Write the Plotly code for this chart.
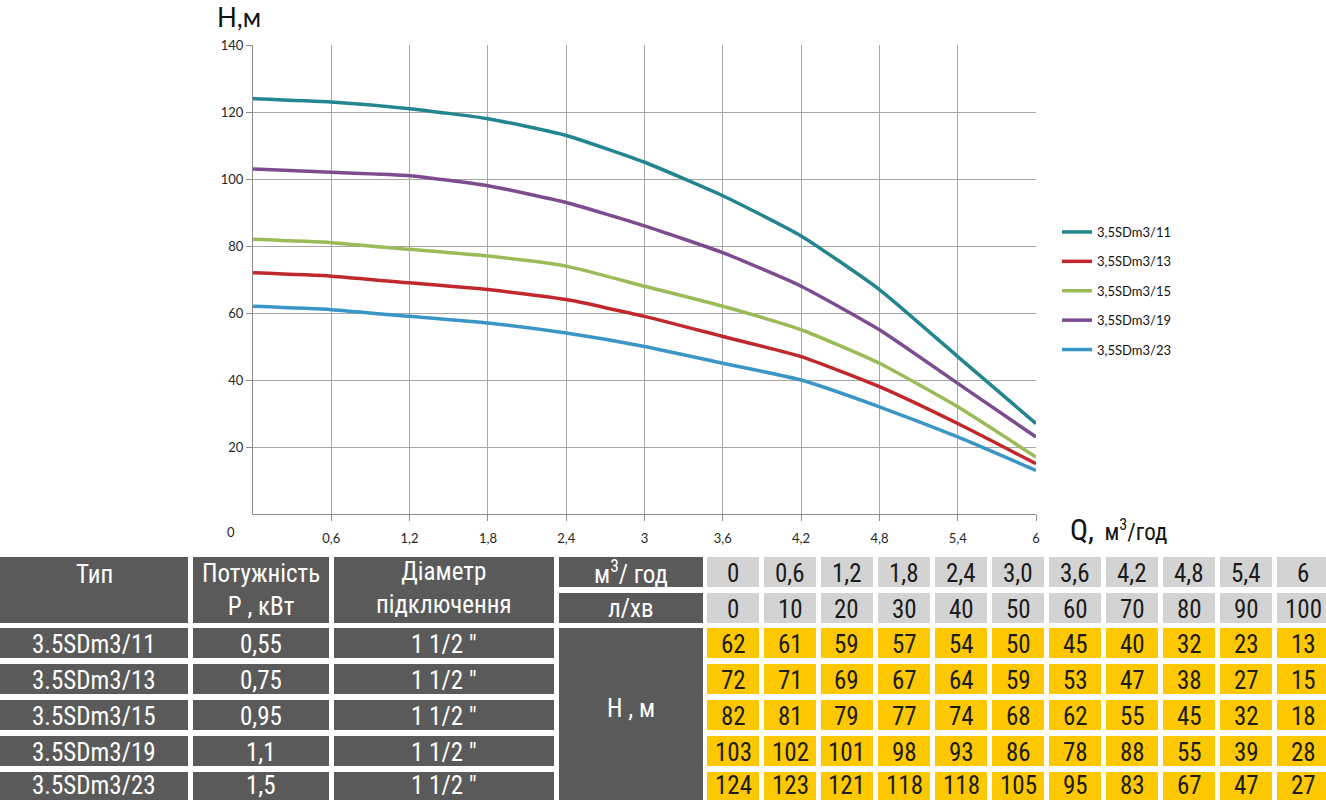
import plotly.graph_objects as go

W, H = 1326, 800

# ---------------- chart data ----------------
flow_q = [0, 0.6, 1.2, 1.8, 2.4, 3.0, 3.6, 4.2, 4.8, 5.4, 6.0]
series_names = ["3,5SDm3/11", "3,5SDm3/13", "3,5SDm3/15", "3,5SDm3/19", "3,5SDm3/23"]
head_11 = [124, 123, 121, 118, 113, 105, 95, 83, 67, 47, 27]
head_13 = [72, 71, 69, 67, 64, 59, 53, 47, 38, 27, 15]
head_15 = [82, 81, 79, 77, 74, 68, 62, 55, 45, 32, 17]
head_19 = [103, 102, 101, 98, 93, 86, 78, 68, 55, 39, 23]
head_23 = [62, 61, 59, 57, 54, 50, 45, 40, 32, 23, 13]
series_values = [head_11, head_13, head_15, head_19, head_23]
series_colors = ["#23858f", "#c0282d", "#9bbb59", "#7d4c8e", "#3a96c6"]

x_tick_vals = [0.6, 1.2, 1.8, 2.4, 3.0, 3.6, 4.2, 4.8, 5.4, 6.0]
x_tick_text = ["0,6", "1,2", "1,8", "2,4", "3", "3,6", "4,2", "4,8", "5,4", "6"]
y_tick_vals = [20, 40, 60, 80, 100, 120, 140]

# ---------------- table data ----------------
tbl_types = ["3.5SDm3/11", "3.5SDm3/13", "3.5SDm3/15", "3.5SDm3/19", "3.5SDm3/23"]
tbl_power = ["0,55", "0,75", "0,95", "1,1", "1,5"]
tbl_diam = ['1 1/2 "', '1 1/2 "', '1 1/2 "', '1 1/2 "', '1 1/2 "']
tbl_q_m3 = ["0", "0,6", "1,2", "1,8", "2,4", "3,0", "3,6", "4,2", "4,8", "5,4", "6"]
tbl_q_lmin = ["0", "10", "20", "30", "40", "50", "60", "70", "80", "90", "100"]
tbl_head = [
    [62, 61, 59, 57, 54, 50, 45, 40, 32, 23, 13],
    [72, 71, 69, 67, 64, 59, 53, 47, 38, 27, 15],
    [82, 81, 79, 77, 74, 68, 62, 55, 45, 32, 18],
    [103, 102, 101, 98, 93, 86, 78, 88, 55, 39, 28],
    [124, 123, 121, 118, 118, 105, 95, 83, 67, 47, 27],
]

# ---------------- layout constants ----------------
PLOT_L, PLOT_R, PLOT_T, PLOT_B = 253, 1036, 45, 514
DARK, LIGHT, YELLOW = "#5a5a5a", "#d3d3d3", "#fdc800"
TXT_DARK = "#1c1c1c"
TFONT = "Liberation Sans Narrow, Roboto Condensed, Arial Narrow, sans-serif"
CFONT = "Lato, Carlito, Calibri, sans-serif"
TSIZE = 25

COLS = [(0, 188), (193, 329), (334, 554), (559, 703)]
NUM_X0, NUM_PITCH, NUM_W = 707, 57, 52
HDR_ROWS = [(557, 587), (593, 623)]
DATA_Y0, ROW_PITCH, ROW_H = 628, 36, 30


def px(x):
    return x / W


def py(y):
    return 1 - y / H


fig = go.Figure()
for name, vals, col in zip(series_names, series_values, series_colors):
    fig.add_trace(go.Scatter(
        x=flow_q, y=vals, name=name, mode="lines",
        line=dict(color=col, width=3.5, shape="spline", smoothing=0.5),
        legendgroup=name,
    ))

shapes = []
annots = []


def rect(x0, y0, x1, y1, color):
    shapes.append(dict(type="rect", xref="paper", yref="paper",
                       x0=px(x0), x1=px(x1), y0=py(y1), y1=py(y0),
                       fillcolor=color, line=dict(width=0), layer="above"))


def text(x, y, s, color, size=TSIZE, family=TFONT, xanchor="center"):
    annots.append(dict(xref="paper", yref="paper", x=px(x), y=py(y), text=s,
                       showarrow=False, xanchor=xanchor, yanchor="middle",
                       font=dict(family=family, size=size, color=color)))


# header cells (merged over two header rows) for first three columns
hdr_top, hdr_bot = HDR_ROWS[0][0], HDR_ROWS[1][1]
for (x0, x1) in COLS[:3]:
    rect(x0, hdr_top, x1, hdr_bot, DARK)
text((COLS[0][0] + COLS[0][1]) / 2, 574, "Тип", "white")
text((COLS[1][0] + COLS[1][1]) / 2, 590, "Потужність<br>P , кВт", "white")
text((COLS[2][0] + COLS[2][1]) / 2, 588, "Діаметр<br>підключення", "white")

# unit label cells
unit_labels = ["м<sup>3</sup>/ год", "л/хв"]
for (y0, y1), lab in zip(HDR_ROWS, unit_labels):
    rect(COLS[3][0], y0, COLS[3][1], y1, DARK)
    text((COLS[3][0] + COLS[3][1]) / 2, (y0 + y1) / 2, lab, "white")

# flow header values
for row_vals, (y0, y1) in zip([tbl_q_m3, tbl_q_lmin], HDR_ROWS):
    for i, v in enumerate(row_vals):
        x0 = NUM_X0 + i * NUM_PITCH
        rect(x0, y0, x0 + NUM_W, y1, LIGHT)
        text(x0 + NUM_W / 2, (y0 + y1) / 2 + 1, v, TXT_DARK)

# data rows
n_rows = len(tbl_types)
for r in range(n_rows):
    y0 = DATA_Y0 + r * ROW_PITCH
    y1 = y0 + ROW_H
    ty = min((y0 + y1) / 2 + 1, 785)
    for (x0, x1), v in zip(COLS[:3], [tbl_types[r], tbl_power[r], tbl_diam[r]]):
        rect(x0, y0, x1, y1, DARK)
        text((x0 + x1) / 2, ty, v, "white")
    for i, v in enumerate(tbl_head[r]):
        x0 = NUM_X0 + i * NUM_PITCH
        rect(x0, y0, x0 + NUM_W, y1, YELLOW)
        text(x0 + NUM_W / 2, ty, str(v), TXT_DARK)

# merged "H, m" cell
hm_bot = DATA_Y0 + (n_rows - 1) * ROW_PITCH + ROW_H
rect(COLS[3][0], DATA_Y0, COLS[3][1], hm_bot, DARK)
text((COLS[3][0] + COLS[3][1]) / 2, 708, "Н , м", "white")

# chart titles
text(239, 17, "Н,м", "#111111", size=26, family=CFONT)
text(1068, 529, "<span style='font-size:30px'>Q,</span>  м<sup>3</sup>/год", "#111111",
     size=23, family=TFONT, xanchor="left")
text(231, 532, "0", "#262626", size=13, family=CFONT)

fig.update_layout(
    width=W, height=H,
    margin=dict(l=0, r=0, t=0, b=0, pad=0, autoexpand=False),
    paper_bgcolor="white", plot_bgcolor="white",
    shapes=shapes, annotations=annots,
    showlegend=True,
    legend=dict(x=px(1057), y=py(217), xanchor="left", yanchor="top",
                font=dict(family=CFONT, size=13, color="#111111"),
                traceorder="grouped", tracegroupgap=9.5, itemwidth=30,
                bgcolor="rgba(0,0,0,0)"),
    xaxis=dict(domain=[px(PLOT_L), px(PLOT_R)], range=[0, 6],
               tickvals=x_tick_vals, ticktext=x_tick_text,
               showgrid=True, gridcolor="#a6a6a6", gridwidth=1,
               showline=True, linecolor="#8c8c8c", linewidth=1,
               ticks="outside", ticklen=6, tickcolor="#8c8c8c",
               ticklabelstandoff=6,
               tickfont=dict(family=CFONT, size=13, color="#262626"),
               zeroline=False, fixedrange=True, automargin=False),
    yaxis=dict(domain=[py(PLOT_B), py(PLOT_T)], range=[0, 140],
               tickvals=y_tick_vals,
               showgrid=True, gridcolor="#a6a6a6", gridwidth=1,
               showline=True, linecolor="#8c8c8c", linewidth=1,
               ticks="outside", ticklen=6, tickcolor="#8c8c8c",
               tickfont=dict(family=CFONT, size=13, color="#262626"),
               zeroline=False, fixedrange=True, automargin=False),
)

fig.write_html("out.html")
